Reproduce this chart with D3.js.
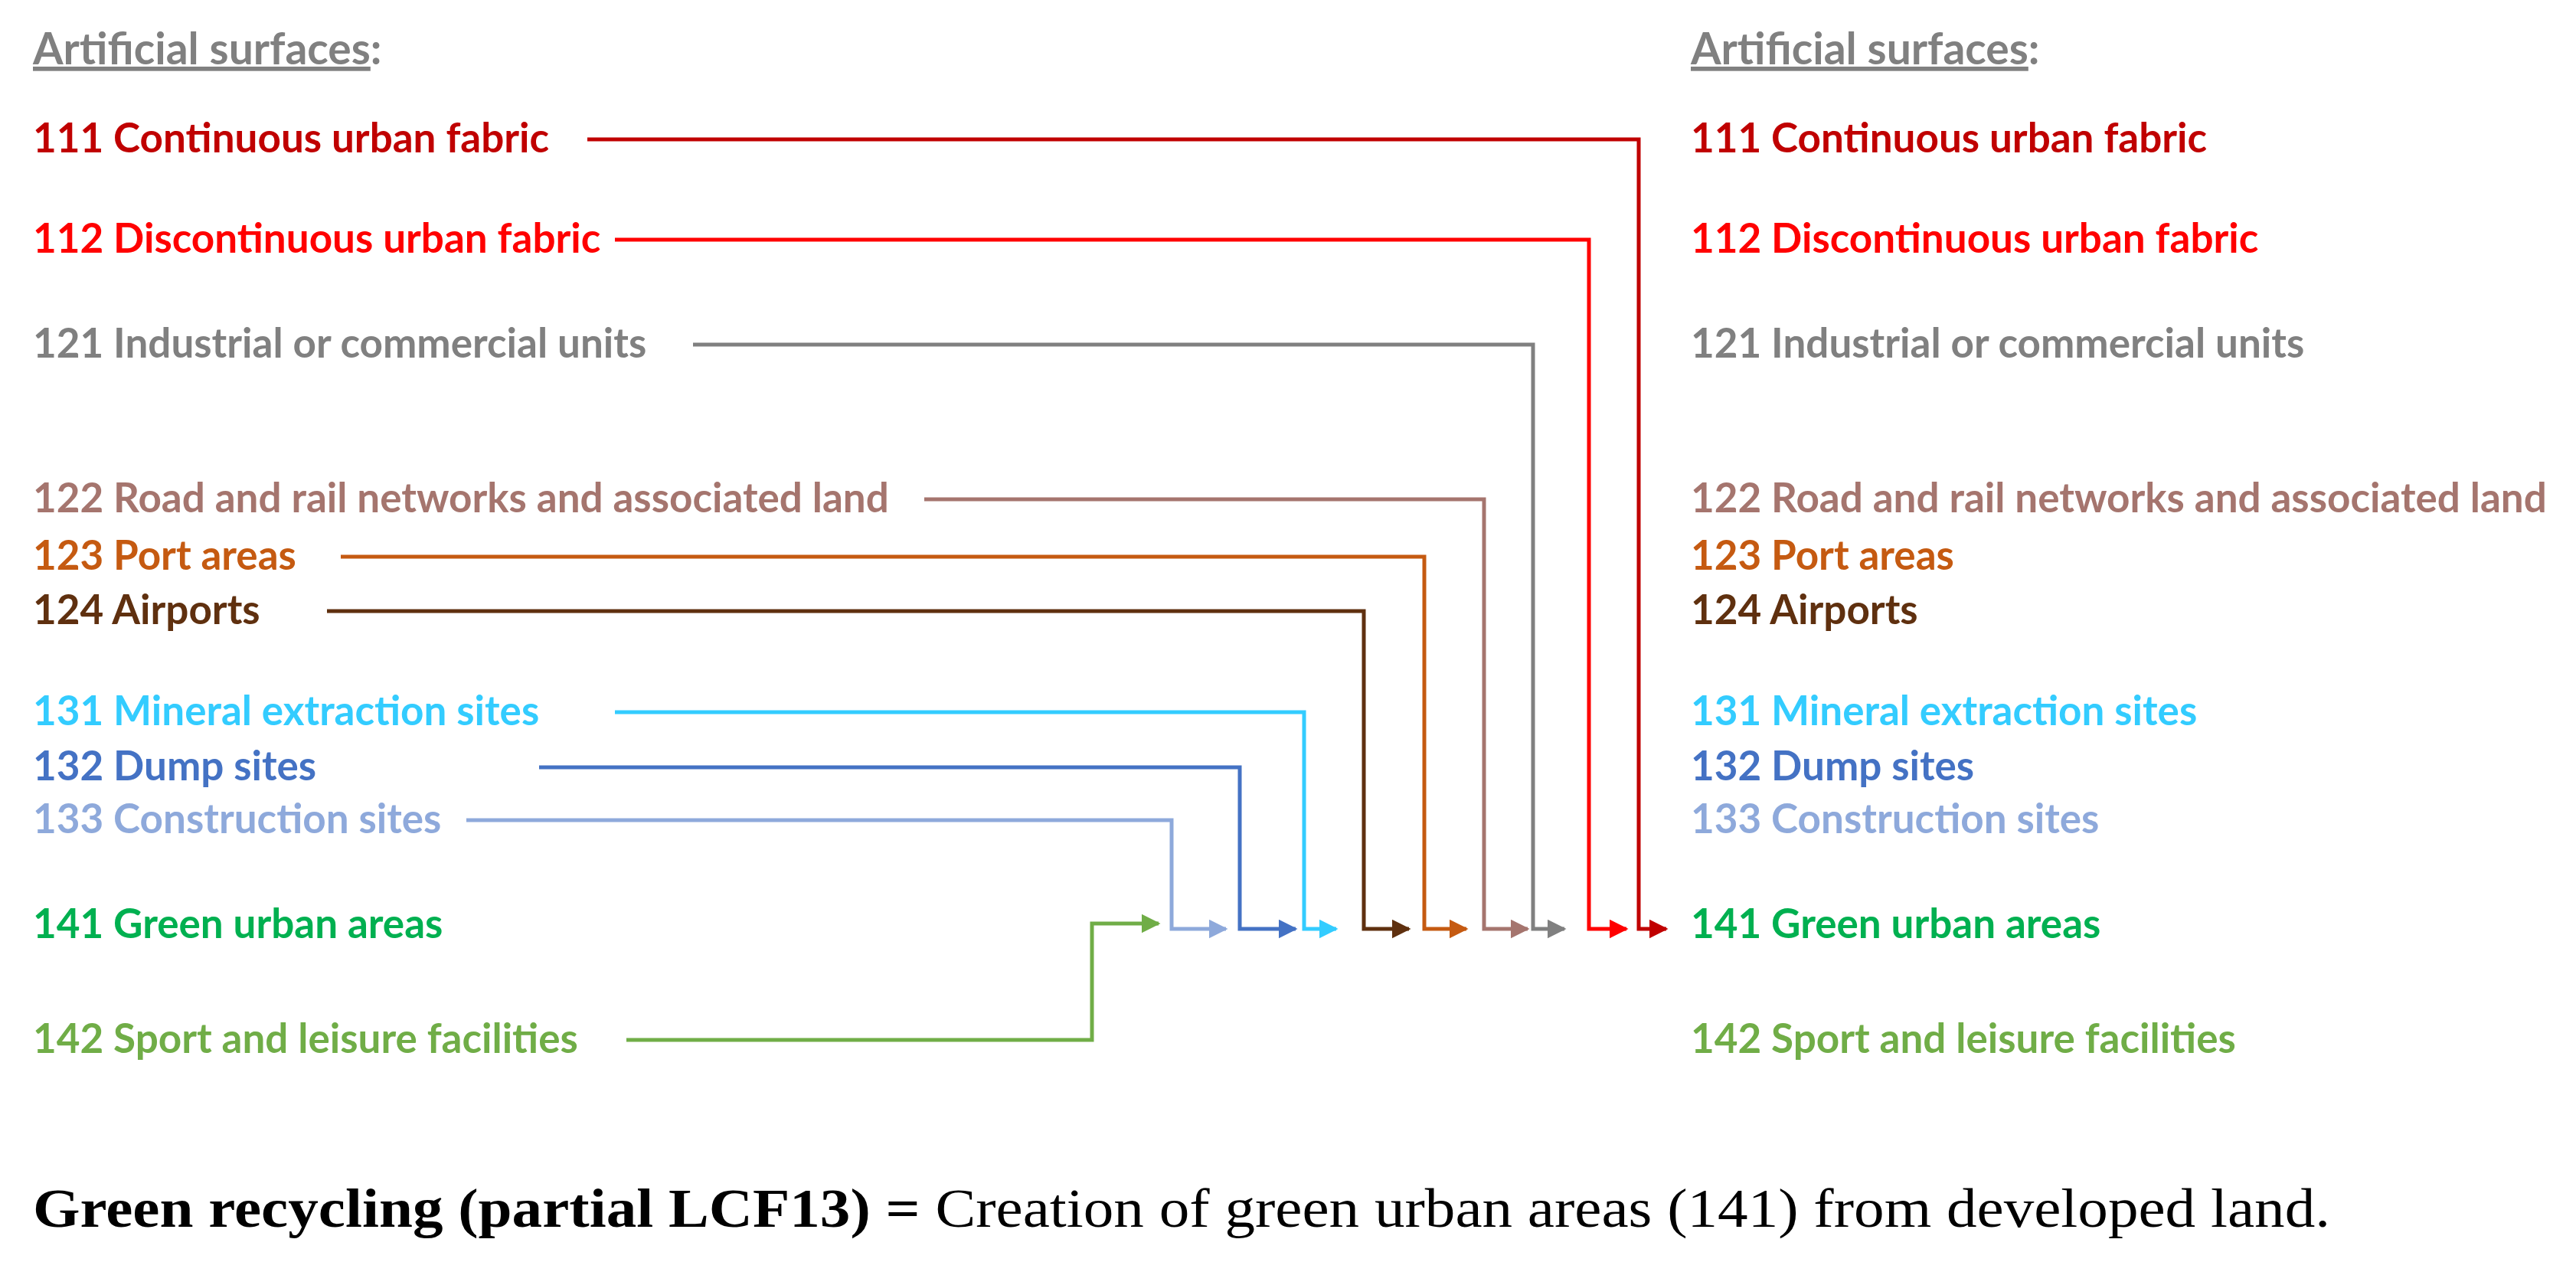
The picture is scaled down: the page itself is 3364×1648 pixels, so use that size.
<!DOCTYPE html>
<html>
<head>
<meta charset="utf-8">
<script src="https://cdn.jsdelivr.net/npm/d3@7"></script>
<style>
  body { margin: 0; background: #fff; }
  text { font-family: Lato, "Open Sans", sans-serif; font-weight: bold; }
</style>
</head>
<body>
<svg id="chart" width="3364" height="1648"></svg>
<script>
// land cover classes
var codes = ['111', '112', '121', '122', '123', '124', '131', '132', '133', '141', '142'];
var names = ['Continuous urban fabric', 'Discontinuous urban fabric', 'Industrial or commercial units',
    'Road and rail networks and associated land', 'Port areas', 'Airports',
    'Mineral extraction sites', 'Dump sites', 'Construction sites',
    'Green urban areas', 'Sport and leisure facilities'];
var colors = ['#C00000', '#FF0000', '#808080', '#A5756E', '#C55A11', '#5F300F',
    '#33CCFF', '#4472C4', '#8EA9DB', '#00B050', '#70AD47'];
// flows into 141 (source class -> target class)
var flowSources = ['111', '112', '121', '122', '123', '124', '131', '132', '133', '142'];
var flowTarget = '141';

// layout (pixels)
var rowY = d3.scaleOrdinal().domain(codes)
    .range([182, 313, 450, 652, 727, 798, 930, 1002, 1071, 1208, 1358]);
var lineStart = d3.scaleOrdinal().domain(flowSources)
    .range([767, 803, 905, 1207, 445, 427, 803, 704, 609, 818]);
var turnX = d3.scaleOrdinal().domain(flowSources)
    .range([2140, 2075, 2002, 1938, 1860, 1781, 1703, 1619, 1530, 1426]);
var arrowEnd = d3.scaleOrdinal().domain(flowSources)
    .range([2176, 2124, 2043, 1995, 1915, 1840, 1745, 1692, 1601, 1513]);
var color = d3.scaleOrdinal().domain(codes).range(colors);

var svg = d3.select('#chart');
var defs = svg.append('defs');
flowSources.forEach(function (c) {
    defs.append('marker')
        .attr('id', 'arr' + c)
        .attr('viewBox', '0 0 10 10')
        .attr('refX', 9).attr('refY', 5)
        .attr('markerWidth', 5).attr('markerHeight', 5)
        .attr('markerUnits', 'strokeWidth')
        .attr('orient', 'auto')
        .append('path').attr('d', 'M0,0L10,5L0,10z').attr('fill', color(c));
});

function column(x) {
    var g = svg.append('g').attr('transform', 'translate(' + x + ',0)');
    var head = g.append('text').attr('y', 84).attr('font-size', 57).attr('fill', '#808080');
    head.append('tspan').attr('text-decoration', 'underline').text('Artificial surfaces');
    head.append('tspan').text(':');
    g.selectAll('text.cls').data(codes).enter().append('text')
        .attr('class', 'cls')
        .attr('y', function (d) { return rowY(d) + 17; })
        .attr('font-size', 53)
        .attr('fill', function (d) { return color(d); })
        .text(function (d, i) { return d + ' ' + names[i]; });
}
column(43);
column(2208);

var yT = rowY(flowTarget);
svg.selectAll('path.flow').data(flowSources).enter().append('path')
    .attr('class', 'flow')
    .attr('fill', 'none')
    .attr('stroke', function (d) { return color(d); })
    .attr('stroke-width', 5)
    .attr('marker-end', function (d) { return 'url(#arr' + d + ')'; })
    .attr('d', function (d) {
        var y0 = rowY(d), y1 = d === '142' ? yT - 2 : yT + 5;
        return 'M' + lineStart(d) + ',' + y0 + 'H' + turnX(d) + 'V' + y1 + 'H' + arrowEnd(d);
    });

var cap = svg.append('text').attr('x', 43).attr('y', 1602)
    .attr('font-size', 72)
    .attr('textLength', 3000).attr('lengthAdjust', 'spacingAndGlyphs')
    .style('font-family', '"Liberation Serif", "DejaVu Serif", serif');
cap.append('tspan').attr('font-weight', 'bold').text('Green recycling (partial LCF13) = ');
cap.append('tspan').attr('font-weight', 'normal').text('Creation of green urban areas (141) from developed land.');
</script>
</body>
</html>
